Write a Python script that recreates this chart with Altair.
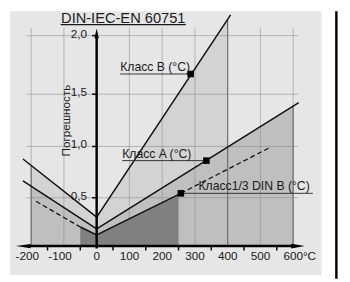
import altair as alt
import pandas as pd

# ---------------- data ----------------
x_tick_values = [-200, -100, 0, 100, 200, 300, 400, 500, 600]
x_tick_labels = ["-200", "-100", "0", "100", "200", "300", "400", "500", "600°C"]
x_minor_ticks = [-150, -50, 50, 150, 250, 350, 450, 550]
grid_x = [-200, -100, 100, 200, 300, 400, 500, 600]
y_tick_values = [0.5, 1.0, 1.5, 2.0]
y_tick_labels = ["0,5", "1,0", "1,5", "2,0"]

# Class B tolerance line and its filled zone
classB_t = [-225, 0, 409]
classB_v = [0.878, 0.30, 2.177]
fillB_t = [-200, 0, 400]
fillB_v = [0.815, 0.30, 2.14]

# Class A tolerance line and its filled zone
classA_t = [-225, 0, 617]
classA_v = [0.665, 0.177, 1.419]
fillA_t = [-200, 0, 600]
fillA_v = [0.61, 0.177, 1.385]

# Class 1/3 DIN B
third_solid_t = [-50, 0, 257]
third_solid_v = [0.197, 0.116, 0.543]
third_dash_left_t = [-185, -50]
third_dash_left_v = [0.463, 0.197]
third_dash_right_t = [257, 525]
third_dash_right_v = [0.543, 0.983]
fill3_t = [-50, 0, 250]
fill3_v = [0.197, 0.116, 0.531]

# labels with markers
label_texts = ["Класс B (°C)", "Класс A (°C)", "Класс1/3 DIN B (°C)"]
marker_t = [287, 335, 257]
marker_v = [1.6725, 0.862, 0.543]
label_start_t = [72, 78, 311]
underline_start_t = [72, 78, 257]
underline_end_t = [287, 335, 660]

title_text = "DIN-IEC-EN 60751"
y_title = "Погрешность"

# ---------------- scales ----------------
xs = alt.Scale(domain=[-270.67, 749.1], nice=False, zero=False)
ys = alt.Scale(domain=[0, 0.5, 1.0, 1.5, 2.0], range=[240.5, 191, 138.5, 85, 25], nice=False, zero=False)

FONT = "Liberation Sans"


def X(f):
    return alt.X(f, type="quantitative", scale=xs, axis=None)


def Y(f):
    return alt.Y(f, type="quantitative", scale=ys, axis=None)


def XD(v):
    return alt.XDatum(v, scale=xs, axis=None)


def YD(v):
    return alt.YDatum(v, scale=ys, axis=None)


one = pd.DataFrame({"a": [0]})


def df(t, v, **extra):
    d = pd.DataFrame({"t": t, "v": v})
    for k, val in extra.items():
        d[k] = val
    return d


layers = []

# panel background and right frame
layers.append(alt.Chart(one).mark_rect(color="#e6e6e6").encode(
    x=alt.value(2), x2=alt.value(321), y=alt.value(0), y2=alt.value(270)))
layers.append(alt.Chart(one).mark_rect(color="#000000").encode(
    x=alt.value(335), x2=alt.value(337.5), y=alt.value(0), y2=alt.value(274)))

# filled zones
for t, v, c in [(fillB_t, fillB_v, "#d3d3d3"), (fillA_t, fillA_v, "#bfbfbf"), (fill3_t, fill3_v, "#808080")]:
    layers.append(alt.Chart(df(t, v)).mark_area(color=c, opacity=1).encode(
        x=X("t"), y=Y("v"), y2=alt.Y2Datum(0)))

# vertical edges of zones
edges = pd.DataFrame({"t": [fillB_t[0], fillB_t[-1], fillA_t[-1]],
                      "v": [fillB_v[0], fillB_v[-1], fillA_v[-1]]})
layers.append(alt.Chart(edges).mark_rule(color="#4d4d4d", strokeWidth=1).encode(
    x=X("t"), y=Y("v"), y2=alt.Y2Datum(0)))

# grid
layers.append(alt.Chart(pd.DataFrame({"t": grid_x})).mark_rule(color="#888888", opacity=0.55, strokeWidth=1).encode(
    x=X("t"), y=YD(2.067), y2=alt.Y2Datum(0)))
layers.append(alt.Chart(pd.DataFrame({"v": y_tick_values})).mark_rule(color="#888888", opacity=0.55, strokeWidth=1).encode(
    y=Y("v"), x=XD(-215), x2=alt.X2Datum(615)))

# tolerance lines
layers.append(alt.Chart(df(classB_t, classB_v)).mark_line(color="#111111", strokeWidth=1.5).encode(x=X("t"), y=Y("v")))
layers.append(alt.Chart(df(classA_t, classA_v)).mark_line(color="#111111", strokeWidth=1.5).encode(x=X("t"), y=Y("v")))
layers.append(alt.Chart(df(third_solid_t, third_solid_v)).mark_line(color="#111111", strokeWidth=1.5).encode(x=X("t"), y=Y("v")))
dash = pd.concat([df(third_dash_left_t, third_dash_left_v, seg="l"),
                  df(third_dash_right_t, third_dash_right_v, seg="r")])
layers.append(alt.Chart(dash).mark_line(color="#111111", strokeWidth=1.3, strokeDash=[5, 3]).encode(
    x=X("t"), y=Y("v"), detail="seg:N"))

# axes
layers.append(alt.Chart(one).mark_rule(color="#000000", strokeWidth=2.5).encode(
    x=XD(-205), x2=alt.X2Datum(605), y=YD(0)))
layers.append(alt.Chart(one).mark_rule(color="#000000", strokeWidth=2.5).encode(
    x=XD(0), y=YD(-0.025), y2=alt.Y2Datum(2.01)))
layers.append(alt.Chart(one).mark_point(shape="M 1 0 L -1 -0.35 L -1 0.35 Z", filled=True, size=196,
                                        color="#000000", opacity=1, strokeWidth=0).encode(x=XD(615), y=YD(0)))
layers.append(alt.Chart(one).mark_point(shape="M -1 0 L 1 -0.3 L 1 0.3 Z", filled=True, size=225,
                                        color="#000000", opacity=1, strokeWidth=0).encode(x=XD(-224), y=YD(0)))
layers.append(alt.Chart(one).mark_point(shape="M 0 -1 L 0.45 1 L -0.45 1 Z", filled=True, size=100,
                                        color="#000000", opacity=1, strokeWidth=0).encode(x=XD(0), y=YD(2.02)))

# ticks
layers.append(alt.Chart(pd.DataFrame({"t": x_minor_ticks})).mark_rule(color="#000000", strokeWidth=1.5).encode(
    x=X("t"), y=YD(0), y2=alt.value(245)))
layers.append(alt.Chart(pd.DataFrame({"v": y_tick_values})).mark_rule(color="#000000", strokeWidth=1.5).encode(
    y=Y("v"), x=XD(-14), x2=alt.X2Datum(0)))

# tick labels
xl = pd.DataFrame({"t": x_tick_values, "lab": x_tick_labels})
neg = xl[xl.t < 0]
mid = xl[(xl.t >= 0) & (xl.t < 600)]
last = xl[xl.t == 600]
tick_style = dict(font=FONT, fontSize=12, color="#1a1a1a", baseline="alphabetic")
layers.append(alt.Chart(neg).mark_text(align="center", dx=-4, **tick_style).encode(
    x=X("t"), y=alt.value(255), text="lab:N"))
layers.append(alt.Chart(mid).mark_text(align="center", **tick_style).encode(
    x=X("t"), y=alt.value(255), text="lab:N"))
layers.append(alt.Chart(last).mark_text(align="left", dx=-10, **tick_style).encode(
    x=X("t"), y=alt.value(255), text="lab:N"))
layers.append(alt.Chart(pd.DataFrame({"v": y_tick_values, "lab": y_tick_labels})).mark_text(
    align="right", dy=2, **tick_style).encode(x=alt.value(81), y=Y("v"), text="lab:N"))

# class labels, underlines, markers
lab = pd.DataFrame({"lab": label_texts, "mt": marker_t, "mv": marker_v, "ls": label_start_t,
                    "us": underline_start_t, "ue": underline_end_t})
layers.append(alt.Chart(lab).mark_rule(color="#333333", strokeWidth=1).encode(
    x=X("us"), x2="ue", y=Y("mv")))
layers.append(alt.Chart(lab).mark_text(align="left", baseline="alphabetic", dy=-3, font=FONT, fontSize=12.5,
                                       color="#1a1a1a").encode(x=X("ls"), y=Y("mv"), text="lab:N"))
layers.append(alt.Chart(lab).mark_point(shape="square", filled=True, size=45, color="#000000", opacity=1).encode(
    x=X("mt"), y=Y("mv")))

# title and y title
layers.append(alt.Chart(one).mark_text(text=title_text, align="center", baseline="alphabetic", font=FONT,
                                       fontSize=15, color="#1a1a1a").encode(x=alt.value(118), y=alt.value(12)))
layers.append(alt.Chart(one).mark_rule(color="#1a1a1a", strokeWidth=1.2).encode(
    x=alt.value(54), x2=alt.value(182), y=alt.value(13.8)))
layers.append(alt.Chart(one).mark_text(text=y_title, angle=270, align="center", baseline="middle", font=FONT,
                                       fontSize=12, color="#1a1a1a").encode(x=alt.value(59), y=alt.value(112)))

chart = alt.layer(*layers).properties(
    width=342, height=274, padding=0,
    autosize=alt.AutoSizeParams(type="none"),
    background="white",
).configure_view(stroke=None)

chart.save("out.html", embed_options={"renderer": "svg", "actions": False})
